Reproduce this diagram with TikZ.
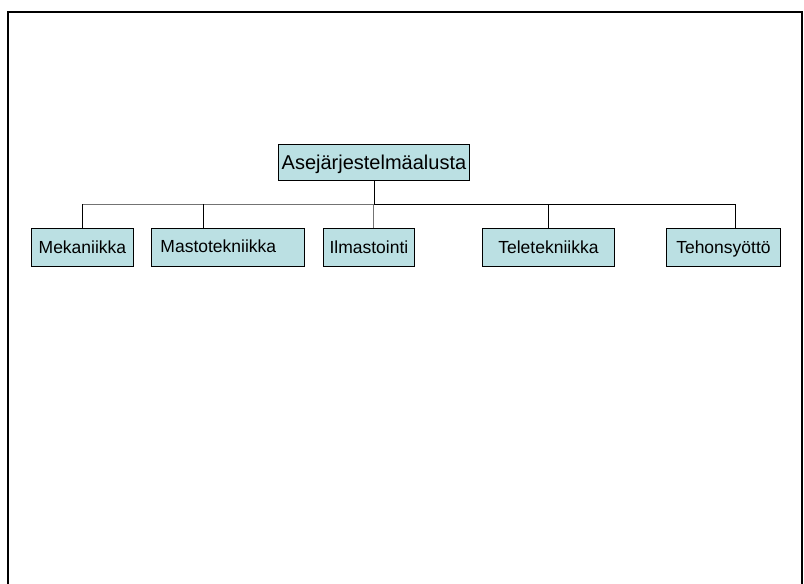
\documentclass[tikz,border=0pt]{standalone}
\usepackage{fontspec}
\setmainfont{Liberation Sans}
\definecolor{boxfill}{RGB}{187,224,227}
\begin{document}
\begin{tikzpicture}[x=1pt,y=-1pt,
  unit/.style={draw=black, line width=0.9pt, fill=boxfill, anchor=north west,
    inner sep=0pt, text height=13pt, text depth=0pt,
    minimum height=38pt, font=\fontsize{17.5}{20}\selectfont},
  link/.style={draw=black, line width=0.9pt}]
\useasboundingbox (0,0) rectangle (804,584);
% page frame
\draw[line width=2pt] (8,584) -- (8,12) -- (802,12) -- (802,584);
% root unit
\node[unit, minimum width=191pt, minimum height=36pt, text height=14.5pt,
  font=\fontsize{20}{24}\selectfont] (root) at (278,144) {Asejärjestelmäalusta};
% sub-units
\node[unit, minimum width=102pt] (mek) at (31,228) {Mekaniikka};
\node[unit, minimum width=153pt, text height=10.5pt] (masto) at (151,228)
  {\makebox[135pt][l]{Mastotekniikka}};
\node[unit, minimum width=91pt] (ilma) at (323,228) {Ilmastointi};
\node[unit, minimum width=132pt] (tele) at (482,228) {Teletekniikka};
\node[unit, minimum width=114pt] (teho) at (666,228) {Tehonsyöttö};
% branch lines
\coordinate (bus) at (374,204);
\draw[link] (root.south -| bus) -- (bus);
\draw[link, draw=black!55] (82,204) -- (bus);
\draw[link] (bus) -- (735,204);
\draw[link] (mek.north -| 82,0) -- (82,204);
\draw[link] (masto.north -| 203,0) -- (203,204);
\draw[link, draw=black!55] (ilma.north -| 373,0) -- (373,204);
\draw[link] (tele.north -| 548,0) -- (548,204);
\draw[link] (teho.north -| 735,0) -- (735,204);
\end{tikzpicture}
\end{document}
